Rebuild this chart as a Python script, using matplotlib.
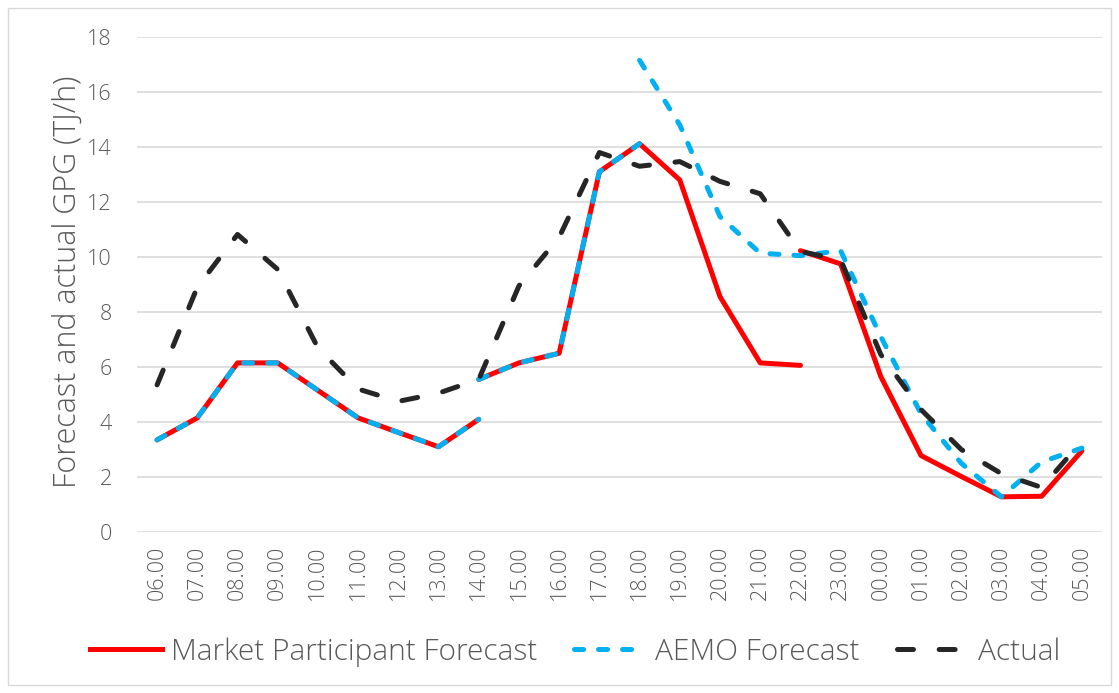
import numpy as np
import matplotlib.pyplot as plt
from matplotlib.lines import Line2D
from matplotlib.patches import Rectangle

plt.rcParams['font.family'] = ['Open Sans', 'DejaVu Sans']
plt.rcParams['font.weight'] = 300
plt.rcParams['lines.scale_dashes'] = False

nan = np.nan
hours = ["06.00", "07.00", "08.00", "09.00", "10.00", "11.00", "12.00", "13.00",
         "14.00", "15.00", "16.00", "17.00", "18.00", "19.00", "20.00", "21.00",
         "22.00", "23.00", "00.00", "01.00", "02.00", "03.00", "04.00", "05.00"]

# market participant forecast, three separate runs
mp_run1 = [3.35, 4.15, 6.15, 6.15, 5.15, 4.15, 3.62, 3.1, 4.1] + [nan] * 15
mp_run2 = [nan] * 8 + [5.55, 6.15, 6.5, 13.1, 14.12, 12.8, 8.56, 6.15, 6.06] + [nan] * 7
mp_run3 = [nan] * 16 + [10.23, 9.75, 5.65, 2.78, 2.02, 1.28, 1.3, 2.95]

# AEMO forecast
aemo_run1 = [3.35, 4.15, 6.15, 6.15, 5.15, 4.15, 3.62, 3.1, 4.1] + [nan] * 15
aemo_run2 = [nan] * 8 + [5.55, 6.15, 6.5, 13.1, 14.12] + [nan] * 11
aemo_run3 = [nan] * 12 + [17.15, 14.8, 11.47, 10.14, 10.05, 10.23, 7.1, 4.3,
                          2.5, 1.28, 2.55, 3.05]

actual = [5.35, 8.9, 10.82, 9.55, 6.7, 5.2, 4.75, 5.05, 5.55, 8.95, 10.72, 13.8,
          13.3, 13.47, 12.75, 12.3, 10.2, 9.9, 6.45, 4.45, 3.0, 2.12, 1.62, 3.3]

RED = "#FF0000"
BLUE = "#00B0F0"
BLACK = "#262626"
GREY = "#595959"
LW = 3.6
blue_dash = (0, (6.5, 10.8))
black_dash = (0, (11.5, 18.5))

fig = plt.figure(figsize=(11.19, 6.93), dpi=100)
ax = fig.add_axes([0.1224, 0.2323, 0.8624, 0.7143])

x = np.arange(len(hours))
for run in (mp_run1, mp_run2, mp_run3):
    ax.plot(x, run, color=RED, linewidth=LW, solid_joinstyle="round",
            solid_capstyle="round")
for run in (aemo_run1, aemo_run2, aemo_run3):
    ax.plot(x, run, color=BLUE, linewidth=LW, linestyle=blue_dash,
            dash_capstyle="round", dash_joinstyle="round")
ax.plot(x, actual, color=BLACK, linewidth=LW, linestyle=black_dash,
        dash_capstyle="round", dash_joinstyle="round")

ax.set_xlim(-0.5, len(hours) - 0.5)
ax.set_ylim(0, 18)
ax.set_yticks(np.arange(0, 19, 2))
ax.set_xticks(x)
ax.set_xticklabels(hours, rotation=90)
ax.grid(axis="y", color="#D9D9D9", linewidth=1.2)
ax.set_axisbelow(True)
for s in ax.spines.values():
    s.set_visible(False)
ax.tick_params(axis="both", length=0, colors=GREY, labelsize=15.5)
ax.tick_params(axis="y", pad=18)
ax.tick_params(axis="x", pad=10)

fig.text(68 / 1119, 1 - 282 / 693, "Forecast and actual GPG (TJ/h)",
         rotation=90, ha="center", va="center", fontsize=22, color=GREY)

handles = [
    Line2D([], [], color=RED, linewidth=LW),
    Line2D([], [], color=BLUE, linewidth=LW, linestyle=blue_dash, dash_capstyle="round"),
    Line2D([], [], color=BLACK, linewidth=LW, linestyle=black_dash, dash_capstyle="round"),
]
labels = ["Market Participant Forecast", "AEMO Forecast", "Actual"]
fig.legend(handles, labels, loc="center", bbox_to_anchor=(575 / 1119, 1 - 652 / 693),
           ncol=3, frameon=False, fontsize=21.5, labelcolor=GREY,
           handlelength=2.4, handletextpad=0.3, columnspacing=1.25)

fig.patches.append(Rectangle((8 / 1119, 8 / 693), 1 - 16 / 1119, 1 - 16 / 693,
                             transform=fig.transFigure, fill=False,
                             edgecolor="#D9D9D9", linewidth=1))

fig.savefig("out.png", dpi=100)
